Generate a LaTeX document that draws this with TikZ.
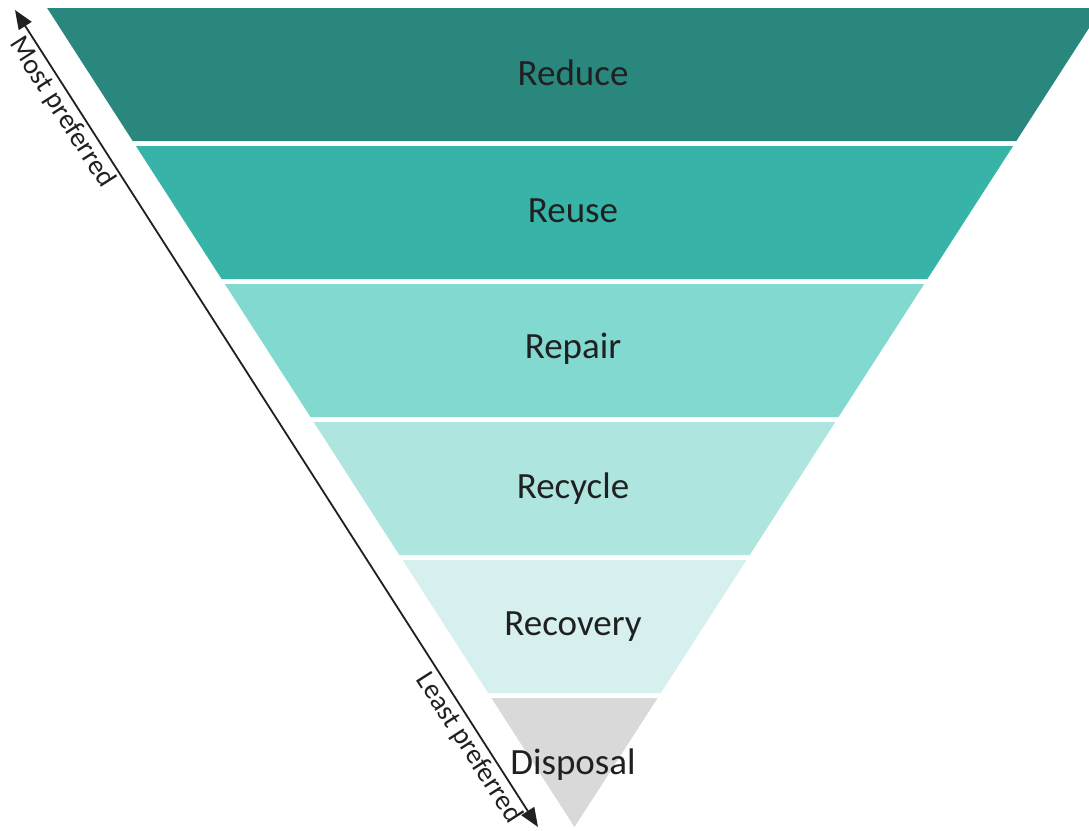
\documentclass[tikz,border=0pt]{standalone}
\usepackage{fontspec}
\setmainfont{Carlito}
\usetikzlibrary{arrows.meta}
\definecolor{cReduce}{HTML}{2A877D}
\definecolor{cReuse}{HTML}{37B3A8}
\definecolor{cRepair}{HTML}{82D9CF}
\definecolor{cRecycle}{HTML}{AEE6DF}
\definecolor{cRecovery}{HTML}{D5F0EE}
\definecolor{cDisposal}{HTML}{D9D9D9}
\definecolor{txt}{HTML}{202020}
\tikzset{
  lab/.style={text=txt, font=\fontsize{37}{44}\selectfont, inner sep=0pt},
  side/.style={text=txt, font=\fontsize{28}{32}\selectfont, inner sep=3pt},
  scale arrow/.style={draw=txt, line width=1.8pt, {Triangle[length=19pt,width=15pt]}-{Triangle[length=19pt,width=15pt]}}
}
\begin{document}
\begin{tikzpicture}[x=1pt,y=-1pt]
\useasboundingbox (0,0) rectangle (1089,830);
\clip (0,0) rectangle (1089,830);
\fill[white] (0,0) rectangle (1089,830);
% layers
\fill[cReduce]   (47.1,8) -- (1101.9,8) -- (1016.3,141) -- (132.7,141) -- cycle;
\fill[cReuse]    (135.9,146) -- (1013.1,146) -- (927.4,279) -- (221.6,279) -- cycle;
\fill[cRepair]   (224.8,284) -- (924.2,284) -- (838.5,417) -- (310.5,417) -- cycle;
\fill[cRecycle]  (313.7,422) -- (835.3,422) -- (749.7,555) -- (399.3,555) -- cycle;
\fill[cRecovery] (402.6,560) -- (746.4,560) -- (660.8,693) -- (488.2,693) -- cycle;
\fill[cDisposal] (491.4,698) -- (657.6,698) -- (574.5,827) -- cycle;
% labels
\node[lab] (reduce)   at (573,73)  {Reduce};
\node[lab] (reuse)    at (573,211) {Reuse};
\node[lab] (repair)   at (573,349) {Repair};
\node[lab] (recycle)  at (573,489) {Recycle};
\node[lab] (recovery) at (573,627) {Recovery};
\node[lab] (disposal) at (573,765) {Disposal};
% preference arrow
\coordinate (most) at (15,10);
\coordinate (least) at (538,827);
\draw[scale arrow] (most) -- (least)
  node[side, pos=0.115, sloped, below] (mostlab) {Most preferred}
  node[side, pos=0.893, sloped, below] (leastlab) {Least preferred};
\end{tikzpicture}
\end{document}
